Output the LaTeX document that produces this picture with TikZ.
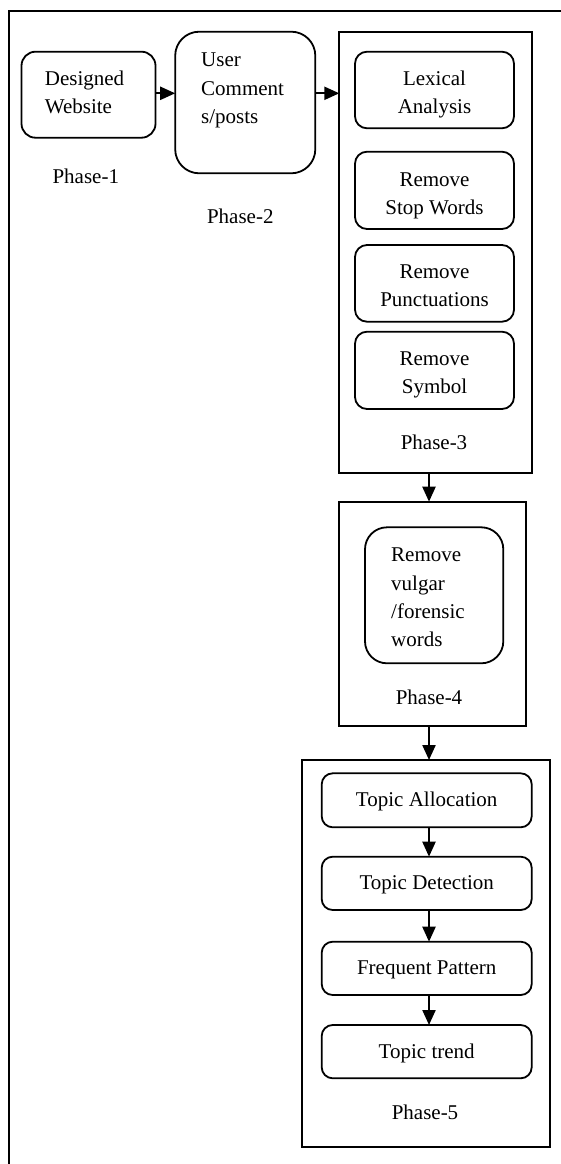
\documentclass[tikz,border=0pt]{standalone}
\usepackage{fontspec}
\setmainfont{Liberation Serif}
\usetikzlibrary{arrows.meta}
\newcommand{\fstrut}{\rule{0pt}{20pt}}
\begin{document}
\begin{tikzpicture}[x=1pt,y=-1pt,
  frame/.style={draw,line width=1.8pt},
  box/.style={draw,line width=1.8pt,inner sep=0pt,outer sep=0pt},
  phasebox/.style={box},
  rbox/.style={box,rounded corners=#1},
  arr/.style={-{Triangle[length=15pt,width=13pt]},line width=2.2pt},
  txt/.style={font=\fontsize{21}{28.3}\selectfont,inner sep=0pt},
  mlc/.style={txt,align=center,anchor=north},
  mll/.style={txt,align=left,anchor=north west},
  sl/.style={txt,anchor=base}
]
\useasboundingbox (0,0) rectangle (561,1164);
% outer frame (cut by the page)
\draw[frame] (9,1166) -- (9,10.7) -- (563,10.7);

% boxes
\node[rbox=14pt,minimum width=134pt,minimum height=86pt] (des) at (88.5,94.7) {};
\node[rbox=24pt,minimum width=140.1pt,minimum height=141.6pt] (usr) at (245.25,102.5) {};
\node[phasebox,minimum width=192.4pt,minimum height=441.6pt] (ph3) at (435.5,252.5) {};
\node[rbox=12pt,minimum width=159pt,minimum height=76.6pt] (lex) at (434.5,90) {};
\node[rbox=12pt,minimum width=159pt,minimum height=77.3pt] (stop) at (434.5,190.35) {};
\node[rbox=12pt,minimum width=159pt,minimum height=76.7pt] (pun) at (434.5,283.35) {};
\node[rbox=12pt,minimum width=159pt,minimum height=77.3pt] (sym) at (434.5,370.35) {};
\node[phasebox,minimum width=186.7pt,minimum height=224.3pt] (ph4) at (432.65,613.85) {};
\node[rbox=22pt,minimum width=138.3pt,minimum height=136pt] (vul) at (434.15,595.3) {};
\node[phasebox,minimum width=248.3pt,minimum height=387pt] (ph5) at (425.85,953.5) {};
\node[rbox=11pt,minimum width=210pt,minimum height=54pt] (ta) at (426.7,800.3) {};
\node[rbox=11pt,minimum width=210pt,minimum height=53.3pt] (td) at (426.7,883.35) {};
\node[rbox=11pt,minimum width=210pt,minimum height=53.3pt] (fp) at (426.7,968.35) {};
\node[rbox=11pt,minimum width=210pt,minimum height=53.3pt] (tt) at (426.7,1051.65) {};

% texts
\node[mll] (tdes) at (44.7,64.8) {\fstrut Designed\\Website};
\node[mll] (tusr) at (201,46.5) {\fstrut User\\Comment\\s/posts};
\node[mlc] (tlex) at (434.5,64.8) {\fstrut Lexical\\Analysis};
\node[mlc] (tstop) at (434.5,165.8) {\fstrut Remove\\Stop Words};
\node[mlc] (tpun) at (434.5,258.2) {\fstrut Remove\\Punctuations};
\node[mlc] (tsym) at (434.5,344.8) {\fstrut Remove\\Symbol};
\node[mll] (tvul) at (391,541.5) {\fstrut Remove\\vulgar\\/forensic\\words};
\node[sl] (p1) at (85.8,183.2) {Phase-1};
\node[sl] (p2) at (240.3,223.2) {Phase-2};
\node[sl] (p3) at (434,449.2) {Phase-3};
\node[sl] (p4) at (429,704.5) {Phase-4};
\node[sl] (p5) at (425,1119.8) {Phase-5};
\node[sl] (tta) at (426.7,806.5) {Topic Allocation};
\node[sl] (ttd) at (426.7,889.8) {Topic Detection};
\node[sl] (tfp) at (426.7,974.8) {Frequent Pattern};
\node[sl] (ttt) at (426.7,1058.2) {Topic trend};

% connectors
\coordinate (hy) at (0,93.3);
\coordinate (vx) at (429,0);
\draw[arr] (des.east |- hy) -- (usr.west |- hy);
\draw[arr] (usr.east |- hy) -- (ph3.west |- hy);
\draw[arr] (ph3.south -| vx) -- (ph4.north -| vx);
\draw[arr] (ph4.south -| vx) -- (ph5.north -| vx);
\draw[arr] (ta.south -| vx) -- (td.north -| vx);
\draw[arr] (td.south -| vx) -- (fp.north -| vx);
\draw[arr] (fp.south -| vx) -- (tt.north -| vx);
\end{tikzpicture}
\end{document}
